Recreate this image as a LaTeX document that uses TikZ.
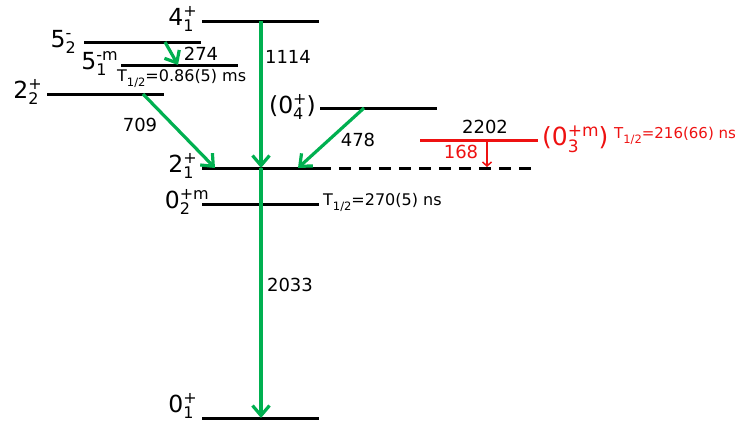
\documentclass[tikz,border=0pt]{standalone}
\usepackage{fontspec}
\setmainfont{DejaVu Sans}
\usetikzlibrary{arrows.meta}
\definecolor{lgreen}{HTML}{00B050}
\definecolor{lred}{HTML}{EE1111}
\newcommand\ssz{\fontsize{16}{16}\selectfont}
\newsavebox\lvsup
\newsavebox\lvsub
\newdimen\lvw
\newcommand\lv[3]{#1\sbox\lvsup{\ssz#2}\sbox\lvsub{\ssz#3}%
  \ifdim\wd\lvsup>\wd\lvsub \lvw=\wd\lvsup \else\lvw=\wd\lvsub\fi
  \rlap{\raisebox{.36em}{\usebox\lvsup}}\rlap{\raisebox{-.28em}{\usebox\lvsub}}\kern\lvw}
\newcommand\thalf[1]{T\raisebox{-.35em}{\fontsize{11.5}{11.5}\selectfont 1/2}#1}
\begin{document}
\begin{tikzpicture}[x=1pt,y=-1pt,
  level/.style={line width=3pt},
  trans/.style={draw=lgreen,line width=3.2pt,-{Straight Barb[length=10pt,width=17pt,line width=3.2pt]}},
  lvlab/.style={anchor=base east,inner sep=0pt,font=\fontsize{23.5}{24}\selectfont},
  elab/.style={inner sep=0pt,font=\fontsize{18}{18}\selectfont},
  tlab/.style={anchor=base west,inner sep=0pt,font=\fontsize{16}{16}\selectfont}]
\useasboundingbox (0,0) rectangle (735,423);
% level end points
\coordinate (l4a) at (202,21);  \coordinate (l4b) at (319,21);
\coordinate (l52a) at (84,42);  \coordinate (l52b) at (201,42);
\coordinate (l51a) at (121,65); \coordinate (l51b) at (238,65);
\coordinate (l22a) at (47,94);  \coordinate (l22b) at (164,94);
\coordinate (l04a) at (320,108);\coordinate (l04b) at (437,108);
\coordinate (l03a) at (420,140);\coordinate (l03b) at (538,140);
\coordinate (l21a) at (202,168);\coordinate (l21b) at (319,168);
\coordinate (l21c) at (534,168);
\coordinate (l02a) at (202,204);\coordinate (l02b) at (319,204);
\coordinate (l01a) at (202,418);\coordinate (l01b) at (319,418);
\draw[level] (l4a) -- (l4b);
\draw[level] (l52a) -- (l52b);
\draw[level] (l51a) -- (l51b);
\draw[level] (l22a) -- (l22b);
\draw[level] (l04a) -- (l04b);
\draw[level,draw=lred] (l03a) -- (l03b);
\draw[level] (l21a) -- (l21b);
\draw[level,dash pattern=on 12pt off 8pt] (l21b) -- (l21c);
\draw[level] (l02a) -- (l02b);
\draw[level] (l01a) -- (l01b);
% transition coordinates
\coordinate (t1114a) at (261,21);  \coordinate (t1114b) at (261,168);
\coordinate (t2033b) at (261,418);
\coordinate (t274a) at (165,42);   \coordinate (t274b) at (178,65);
\coordinate (t709a) at (143,94);   \coordinate (t709b) at (215,168);
\coordinate (t478a) at (364,108);  \coordinate (t478b) at (298,168);
\coordinate (t168a) at (487,140);  \coordinate (t168b) at (487,167);
\draw[trans] (t1114a) -- (t1114b);
\draw[trans] (t1114b) -- (t2033b);
\draw[trans] (t274a) -- (t274b);
\draw[trans] (t709a) -- (t709b);
\draw[trans] (t478a) -- (t478b);
\draw[draw=lred,line width=2.8pt,-{Straight Barb[length=4pt,width=9pt,line width=1.5pt]}] (t168a) -- (t168b);
% level labels
\node[lvlab] (n4) at (197,25) {\lv{4}{+}{1}};
\node[lvlab] (n52) at (76,47) {\lv{5}{-}{2}};
\node[lvlab] (n51) at (118,69) {\lv{5}{-m}{1}};
\node[lvlab] (n22) at (42,98) {\lv{2}{+}{2}};
\node[lvlab] (n04) at (316,113) {\lv{(0}{+}{4})};
\node[lvlab] (n21) at (197,172) {\lv{2}{+}{1}};
\node[lvlab] (n02) at (209,208) {\lv{0}{+m}{2}};
\node[lvlab] (n01) at (197,412) {\lv{0}{+}{1}};
\node[anchor=base west,inner sep=0pt,text=lred,font=\fontsize{25}{25}\selectfont] (n03) at (542,145)
  {{\renewcommand\ssz{\fontsize{17}{17}\selectfont}\lv{(0}{+m}{3})}};
% half-lives
\node[tlab] (h51) at (117,81) {\thalf{=0.86(5) ms}};
\node[tlab] (h02) at (323,205) {\thalf{=270(5) ns}};
\node[tlab,text=lred,font=\fontsize{15}{15}\selectfont] (h03) at (614,138) {\thalf{=216(66) ns}};
% energies
\node[elab] (e274) at (201,54) {274};
\node[elab] (e709) at (140,125) {709};
\node[elab] (e1114) at (288,57) {1114};
\node[elab] (e478) at (358,140) {478};
\node[elab] (e2202) at (485,127) {2202};
\node[elab,text=lred] (e168) at (461,152) {168};
\node[elab] (e2033) at (290,285) {2033};
\end{tikzpicture}
\end{document}
